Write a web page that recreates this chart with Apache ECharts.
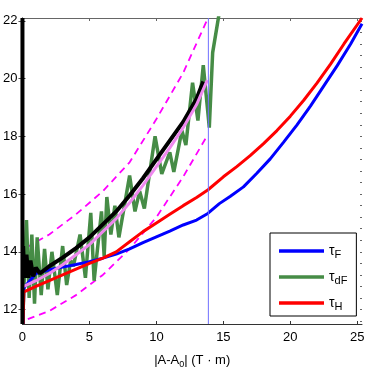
<!DOCTYPE html>
<html><head><meta charset="utf-8">
<script src="https://cdn.jsdelivr.net/npm/echarts@6/dist/echarts.min.js"></script>
<style>html,body{margin:0;padding:0;background:#fff}#c{width:374px;height:374px}</style>
</head><body><div id="c"></div>
<script>
const xTicks = [0, 5, 10, 15, 20, 25];
const yTicks = [12, 14, 16, 18, 20, 22];
const yMinorTicks = [11.6, 12, 12.4, 12.8, 13.2, 13.6, 14, 14.4, 14.8, 15.2, 15.6, 16, 16.4, 16.8, 17.2, 17.6, 18, 18.4, 18.8, 19.2, 19.6, 20, 20.4, 20.8, 21.2, 21.6, 22];

const tauF = [[0.05,11.5],[0.1,12.75],[1,13.25],[2,13.38],[3,13.47],[4,13.56],[5,13.66],[6,13.78],[7,13.92],[8,14.1],[9,14.32],[10,14.52],[11,14.72],[12,14.93],[13,15.1],[13.84,15.33],[14.7,15.67],[15.5,15.92],[16.5,16.25],[17.5,16.72],[18.5,17.22],[19.5,17.8],[20.5,18.4],[21.5,19.05],[22.5,19.75],[23.5,20.45],[24.5,21.2],[25.35,21.9]];
const tauH = [[0.05,11.5],[0.1,12.6],[0.28,12.65],[1,12.8],[2,13.0],[3,13.2],[4,13.4],[5,13.6],[6,13.78],[7,14.0],[8,14.35],[9,14.7],[10,15.0],[11,15.3],[12,15.6],[13,15.88],[13.86,16.15],[15,16.6],[16,16.95],[17,17.33],[18,17.75],[19,18.2],[20,18.7],[21,19.25],[22,19.85],[23,20.5],[24,21.2],[25.35,22.1]];
const taudF = [[0.05,12.0],[0.3,15.1],[0.5,12.4],[0.7,14.6],[0.9,12.2],[1.1,14.5],[1.4,12.5],[1.65,14.1],[1.9,12.7],[2.2,14.0],[2.6,12.5],[3.0,14.2],[3.3,12.85],[3.6,13.7],[3.8,13.5],[4.3,14.6],[4.7,13.1],[5.1,15.35],[5.35,13.0],[5.9,15.4],[6.1,13.85],[6.3,15.9],[6.6,14.6],[6.9,15.6],[7.2,14.5],[8.0,16.64],[8.4,15.4],[8.75,16.1],[9.1,15.5],[9.9,18.0],[10.4,16.7],[11.0,17.45],[11.3,16.77],[11.9,18.2],[12.2,17.7],[12.7,19.86],[13.1,18.55],[13.5,20.47],[13.95,18.3],[14.2,20.9],[14.7,22.3]];
const blackFit = [[0.05,14.2],[0.15,13.1],[0.3,13.9],[0.45,13.1],[0.6,13.7],[0.8,13.15],[1.0,13.45],[1.3,13.25],[2,13.5],[3,13.8],[4,14.13],[5,14.5],[6,14.95],[7,15.4],[8,15.95],[9,16.55],[10,17.2],[11,17.85],[12,18.5],[13,19.3],[13.5,19.9]];
const pinkFit = [[0.1,12.8],[1,13.0],[2,13.25],[3,13.55],[4,13.9],[5,14.25],[6,14.7],[7,15.15],[8,15.7],[9,16.3],[10,16.95],[11,17.6],[12,18.3],[13,19.1],[13.8,19.95]];
const upperBand = [[0.3,14.15],[2,14.6],[4,15.3],[6,16.1],[8,17.1],[10,18.6],[12,20.2],[13.85,22.1]];
const lowerBand = [[0.4,11.67],[2,11.95],[4,12.5],[6,13.2],[8,14.1],[10,15.2],[12,16.6],[13.85,18.07]];
const vLineBlue = [[13.88,11.5],[13.88,22.1]];
const vLineBlack = [[0,11.5],[0,22.1]];

const FONT = 'Liberation Sans, Arial, sans-serif';
const chart = echarts.init(document.getElementById('c'), null, {renderer: 'canvas'});
const axLine = {show: true, lineStyle: {color: '#333', width: 1}};
function line(name, data, color, width, extra) {
  return Object.assign({name: name, type: 'line', data: data, symbol: 'none', showSymbol: false,
    lineStyle: {color: color, width: width}, itemStyle: {color: color}, animation: false, silent: true}, extra || {});
}
const names = {tauF: '{t|τ}{s|F}', taudF: '{t|τ}{s|dF}', tauH: '{t|τ}{s|H}'};
chart.setOption({
  animation: false,
  grid: {left: 22, right: 12, top: 18, bottom: 48},
  xAxis: [
    {type: 'value', position: 'bottom', min: 0, max: 25.35,
     axisLine: axLine, splitLine: {show: false},
     axisTick: {show: true, inside: true, length: 3, customValues: xTicks, lineStyle: {color: '#333'}},
     axisLabel: {customValues: xTicks, fontSize: 13, fontFamily: FONT, color: '#000', margin: 7},
     name: '|A-A{s|0}| (T · m)', nameLocation: 'middle', nameGap: 27,
     nameTextStyle: {fontSize: 13, fontFamily: FONT, color: '#000', rich: {s: {fontSize: 9, fontFamily: FONT, color: '#000', padding: [9, 0, 0, 0]}}}},
    {type: 'value', position: 'top', min: 0, max: 25.35,
     axisLine: {show: true, lineStyle: {color: '#666', width: 1}}, splitLine: {show: false},
     axisTick: {show: true, inside: true, length: 3, customValues: xTicks, lineStyle: {color: '#666'}},
     axisLabel: {show: false}}
  ],
  yAxis: [
    {type: 'value', position: 'left', min: 11.5, max: 22.1,
     axisLine: axLine, splitLine: {show: false},
     axisTick: {show: true, inside: true, length: 3, customValues: yTicks},
     axisLabel: {customValues: yTicks, fontSize: 13, fontFamily: FONT, color: '#000', margin: 5}},
    {type: 'value', position: 'right', min: 11.5, max: 22.1,
     axisLine: {show: true, lineStyle: {color: '#666', width: 1}}, splitLine: {show: false},
     axisTick: {show: true, inside: true, length: 4, customValues: yTicks, lineStyle: {color: '#555'}},
     axisLabel: {show: false}},
    {type: 'value', position: 'right', min: 11.5, max: 22.1,
     axisLine: {show: false}, splitLine: {show: false},
     axisTick: {show: true, inside: true, length: 2, customValues: yMinorTicks, lineStyle: {color: '#666'}},
     axisLabel: {show: false}}
  ],
  legend: {
    data: ['tauF', 'taudF', 'tauH'], orient: 'vertical', left: 270, top: 233,
    backgroundColor: '#fff', borderColor: '#000', borderWidth: 1, borderRadius: 0,
    padding: [8, 9, 4, 9], itemWidth: 45, itemHeight: 3.5, itemGap: 7, icon: 'rect',
    formatter: function (n) { return names[n]; },
    textStyle: {fontFamily: FONT, color: '#000', rich: {
      t: {fontSize: 14, fontFamily: FONT, color: '#000', lineHeight: 18, verticalAlign: 'middle'},
      s: {fontSize: 11, fontFamily: FONT, color: '#000', lineHeight: 18, verticalAlign: 'bottom', padding: [8, 0, 0, 0]}}}
  },
  series: [
    line('upper', upperBand, '#ff00ff', 1.8, {lineStyle: {color: '#ff00ff', width: 1.8, type: [7, 5]}, z: 2}),
    line('lower', lowerBand, '#ff00ff', 1.8, {lineStyle: {color: '#ff00ff', width: 1.8, type: [7, 5]}, z: 2}),
    line('taudF', taudF, '#468c46', 3.5, {z: 3}),
    line('tauF', tauF, '#0000ff', 3, {z: 4}),
    line('tauH', tauH, '#ff0000', 3, {z: 5}),
    line('black', blackFit, '#000000', 4, {z: 6}),
    line('pink', pinkFit, '#ee88ee', 3, {z: 7}),
    line('vblue', vLineBlue, '#7070ff', 1, {z: 8}),
    line('vblack', vLineBlack, '#000000', 4, {z: 9, clip: false})
  ]
});
</script></body></html>
